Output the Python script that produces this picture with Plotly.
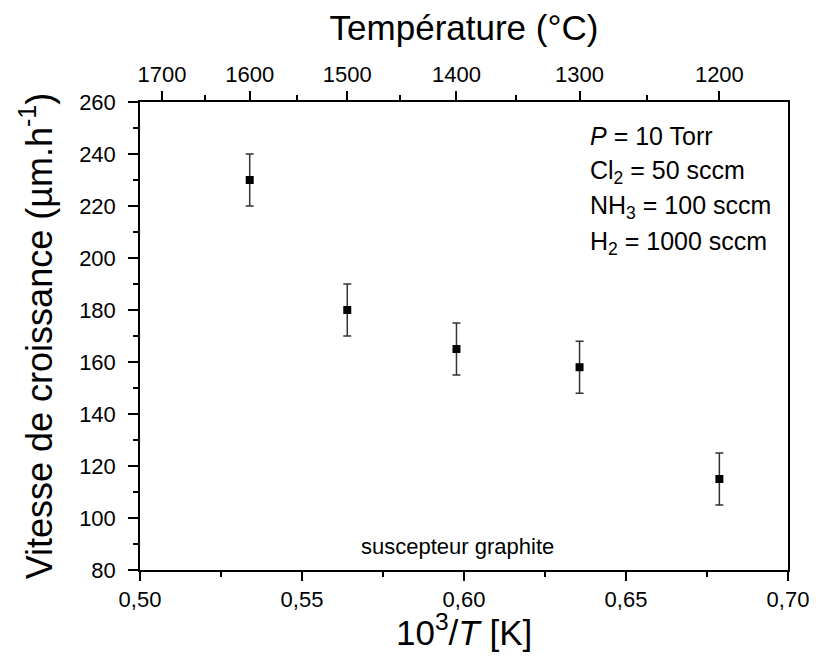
import plotly.graph_objects as go

# Data
temperatures_c = [1600, 1500, 1400, 1300, 1200]
inv_T = [1000.0 / (t + 273.15) for t in temperatures_c]
growth_rate = [230, 180, 165, 158, 115]
error = [10, 10, 10, 10, 10]

top_major_c = [1700, 1600, 1500, 1400, 1300, 1200]
top_minor_c = [1650, 1550, 1450, 1350, 1250]
bottom_ticks = [0.50, 0.55, 0.60, 0.65, 0.70]
left_ticks = list(range(80, 261, 20))

FONT = "Arial, Liberation Sans, sans-serif"

# plot area in page pixels (page body has an 8px margin)
PL, PR, PT, PB = 140, 788, 102, 570
PW, PH = PR - PL, PB - PT

fig = go.Figure()
fig.add_trace(go.Scatter(
    x=inv_T, y=growth_rate, mode="markers",
    marker=dict(symbol="square", size=8, color="black"),
    error_y=dict(type="data", array=error, visible=True, color="#333333",
                 thickness=1.5, width=4),
    showlegend=False,
))
# dummy trace to keep the top axis drawn
fig.add_trace(go.Scatter(
    x=inv_T, y=growth_rate, xaxis="x2", mode="markers",
    marker=dict(opacity=0), hoverinfo="skip", showlegend=False,
))

fig.update_layout(
    width=818, height=656,
    margin=dict(l=PL - 8, r=818 - PR + 8, t=PT - 8, b=656 - PB + 8),
    paper_bgcolor="white", plot_bgcolor="white",
    separators=", ",
    font=dict(family=FONT, color="black"),
    xaxis=dict(
        range=[0.50, 0.70], tickvals=bottom_ticks, tickformat=".2f",
        showline=True, linecolor="black", linewidth=1.5, mirror=True,
        ticks="outside", ticklen=9, tickwidth=1.5, tickcolor="black",
        minor=dict(dtick=0.025, tick0=0.5, ticks="outside", ticklen=5,
                   tickwidth=1.5, tickcolor="black"),
        showgrid=False, zeroline=False, automargin=False,
        tickfont=dict(size=22),
    ),
    xaxis2=dict(
        overlaying="x", side="top", range=[0.50, 0.70],
        tickmode="array",
        tickvals=[1000.0 / (t + 273.15) for t in top_major_c],
        ticktext=[str(t) for t in top_major_c],
        showline=True, linecolor="black", linewidth=1.5,
        ticks="outside", ticklen=9, tickwidth=1.5, tickcolor="black",
        minor=dict(tickmode="array",
                   tickvals=[1000.0 / (t + 273.15) for t in top_minor_c],
                   ticks="outside", ticklen=5, tickwidth=1.5, tickcolor="black"),
        showgrid=False, zeroline=False, automargin=False,
        tickfont=dict(size=22),
        title=dict(text="Température (°C)", font=dict(size=35), standoff=16),
    ),
    yaxis=dict(
        range=[80, 260], tickvals=left_ticks,
        showline=True, linecolor="black", linewidth=1.5, mirror=True,
        ticks="outside", ticklen=10, tickwidth=1.5, tickcolor="black",
        minor=dict(dtick=10, tick0=80, ticks="outside", ticklen=5,
                   tickwidth=1.5, tickcolor="black"),
        showgrid=False, zeroline=False, automargin=False,
        ticklabelstandoff=8,
        tickfont=dict(size=22),
        title=dict(text="Vitesse de croissance (µm.h<sup>-1</sup>)",
                   font=dict(size=36), standoff=16),
    ),
)

# bottom axis title
fig.add_annotation(
    text="10<sup>3</sup>/<i>T</i> [K]", xref="paper", yref="paper",
    x=0.5, y=(PB - 630) / PH, xanchor="center", yanchor="middle",
    showarrow=False, font=dict(size=35, family=FONT, color="black"),
)

notes = [
    ("<i>P</i> = 10 Torr", 136),
    ("Cl<sub>2</sub> = 50 sccm", 172),
    ("NH<sub>3</sub> = 100 sccm", 207),
    ("H<sub>2</sub> = 1000 sccm", 243),
]
for txt, ypx in notes:
    fig.add_annotation(
        text=txt, xref="paper", yref="paper",
        x=(588 - PL) / PW, y=(PB - ypx) / PH,
        xanchor="left", yanchor="middle", showarrow=False,
        font=dict(size=25, family=FONT, color="black"),
    )
fig.add_annotation(
    text="suscepteur graphite", xref="paper", yref="paper",
    x=(457 - PL) / PW, y=(PB - 546) / PH,
    xanchor="center", yanchor="middle", showarrow=False,
    font=dict(size=22, family=FONT, color="black"),
)

fig.write_html("out.html")
